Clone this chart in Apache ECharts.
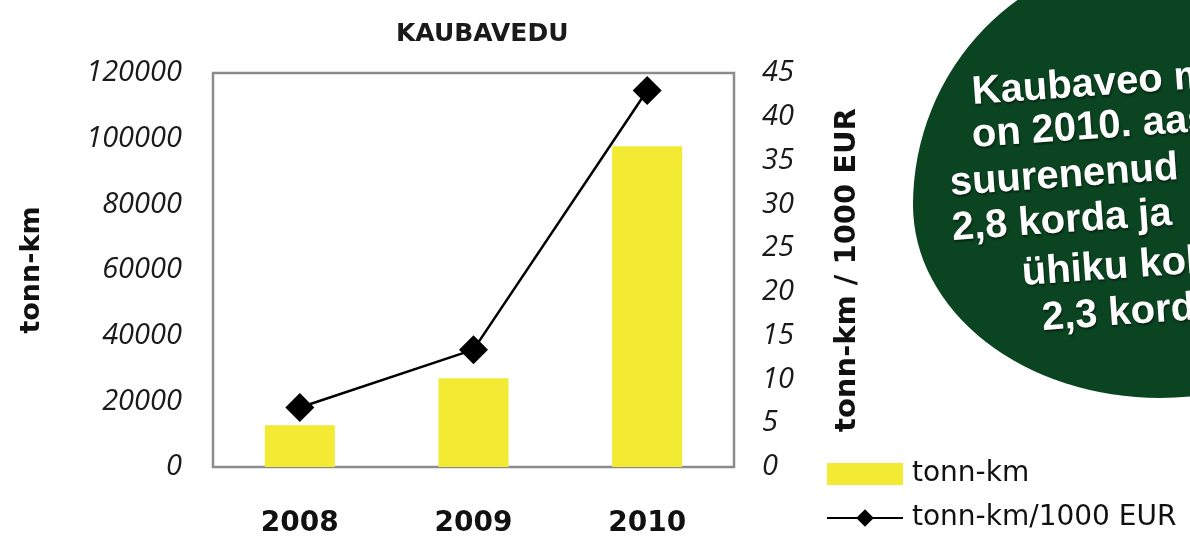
<!DOCTYPE html>
<html>
<head>
<meta charset="utf-8">
<title>Kaubavedu</title>
<script src="https://cdn.jsdelivr.net/npm/echarts@6/dist/echarts.min.js"></script>
<style>
  html, body { margin: 0; padding: 0; background: #fff; }
  #chart { width: 1190px; height: 538px; }
</style>
</head>
<body>
<div id="chart"></div>
<script>
// andmed
var years = ['2008', '2009', '2010'];
var tonnKm = [12700, 27000, 97700];
var tonnKmPerEur = [6.8, 13.4, 43.0];
var calloutLines = ['Kaubaveo maht', 'on 2010. aastal', 'suurenenud', '2,8 korda ja', 'ühiku kohta', '2,3 korda'];

var myChart = echarts.init(document.getElementById('chart'));

// ringi tekst, iga rida eraldi
var lineX = [972, 972, 950, 952, 1022, 1042];
var lineBase = [107, 150, 198, 243, 288, 333];
var calloutText = calloutLines.map(function (t, i) {
    return {
        type: 'text',
        x: lineX[i],
        y: lineBase[i] - 14,
        rotation: 0.07,
        z: 10,
        style: {
            text: t,
            fill: '#ffffff',
            font: 'bold 40px "Liberation Sans", Arial, sans-serif',
            textAlign: 'left',
            textVerticalAlign: 'middle',
            align: 'left',
            verticalAlign: 'middle',
            textShadowColor: 'rgba(0,0,0,0.45)',
            textShadowBlur: 2,
            textShadowOffsetX: 1,
            textShadowOffsetY: 2
        }
    };
});

// roheline ovaal: ülemine ja alumine pool eraldi (alumine on lamedam)
var blobGreen = '#0b4421';
var blob = [
    {
        type: 'sector', x: 1160, y: 205, scaleX: 2.47, scaleY: 2.51, z: 5,
        shape: { cx: 0, cy: 0, r0: 0, r: 100, startAngle: Math.PI, endAngle: Math.PI * 2 },
        style: { fill: blobGreen }
    },
    {
        type: 'sector', x: 1160, y: 205, scaleX: 2.47, scaleY: 1.93, z: 5,
        shape: { cx: 0, cy: 0, r0: 0, r: 100, startAngle: 0, endAngle: Math.PI },
        style: { fill: blobGreen }
    }
];

var option = {
    animation: false,
    backgroundColor: '#ffffff',
    title: {
        text: 'KAUBAVEDU',
        left: 391,
        top: 17,
        textStyle: {
            fontFamily: 'DejaVu Sans',
            fontWeight: 'bold',
            fontSize: 25,
            color: '#1a1a1a'
        }
    },
    legend: {
        orient: 'vertical',
        left: 826,
        top: 460,
        padding: 0,
        itemWidth: 76,
        itemHeight: 22,
        itemGap: 16,
        textStyle: {
            fontFamily: 'DejaVu Sans',
            fontSize: 28,
            color: '#111111',
            padding: [0, 0, 0, 4]
        },
        data: [
            { name: 'tonn-km', icon: 'rect' },
            { name: 'tonn-km/1000 EUR' }
        ]
    },
    grid: {
        left: 213,
        right: 456,
        top: 73,
        bottom: 69,
        show: true,
        borderColor: '#8c8c8c',
        borderWidth: 2.5,
        backgroundColor: 'transparent'
    },
    xAxis: {
        type: 'category',
        data: years,
        axisLine: { show: false },
        axisTick: { show: false },
        axisLabel: {
            margin: 43,
            fontFamily: 'DejaVu Sans',
            fontWeight: 'bold',
            fontSize: 28,
            color: '#111111'
        }
    },
    yAxis: [
        {
            type: 'value',
            min: 0,
            max: 120000,
            interval: 20000,
            name: 'tonn-km',
            nameLocation: 'middle',
            nameRotate: 90,
            nameGap: 168,
            nameTextStyle: {
                fontFamily: 'DejaVu Sans',
                fontWeight: 'bold',
                fontSize: 27,
                color: '#111111'
            },
            axisLine: { show: false },
            axisTick: { show: false },
            splitLine: { show: false },
            axisLabel: {
                margin: 31,
                fontFamily: 'Open Sans',
                fontStyle: 'italic',
                fontSize: 29,
                color: '#1a1a1a',
                formatter: function (v) { return String(v); }
            }
        },
        {
            type: 'value',
            min: 0,
            max: 45,
            interval: 5,
            name: 'tonn-km / 1000 EUR',
            nameLocation: 'middle',
            nameRotate: 90,
            nameGap: 99,
            nameTextStyle: {
                fontFamily: 'DejaVu Sans',
                fontWeight: 'bold',
                fontSize: 29,
                color: '#111111'
            },
            axisLine: { show: false },
            axisTick: { show: false },
            splitLine: { show: false },
            axisLabel: {
                margin: 28,
                fontFamily: 'Open Sans',
                fontStyle: 'italic',
                fontSize: 29,
                color: '#1a1a1a'
            }
        }
    ],
    series: [
        {
            name: 'tonn-km',
            type: 'bar',
            data: tonnKm,
            barWidth: 70,
            itemStyle: { color: '#f3ea33' }
        },
        {
            name: 'tonn-km/1000 EUR',
            type: 'line',
            yAxisIndex: 1,
            data: tonnKmPerEur,
            symbol: 'diamond',
            symbolSize: 29,
            itemStyle: { color: '#000000' },
            lineStyle: { color: '#000000', width: 2.5 }
        }
    ],
    graphic: blob.concat(calloutText)
};

myChart.setOption(option);
</script>
</body>
</html>
